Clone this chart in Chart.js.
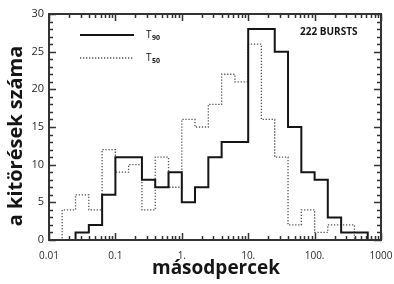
<!DOCTYPE html>
<html>
<head>
<meta charset="utf-8">
<script src="https://cdn.jsdelivr.net/npm/chart.js@4/dist/chart.umd.min.js"></script>
<style>
  html, body { margin: 0; padding: 0; background: #fff; overflow: hidden; }
  #wrap { position: relative; width: 394px; height: 284px; }
</style>
</head>
<body>
<div id="wrap"><canvas id="histChart"></canvas></div>
<script>
// bin edges (0.2 dex wide), seconds
const binEdges = [0.01, 0.0158, 0.0251, 0.0398, 0.0631, 0.1, 0.158, 0.251, 0.398, 0.631,
  1, 1.58, 2.51, 3.98, 6.31, 10, 15.8, 25.1, 39.8, 63.1, 100, 158, 251, 398, 631, 1000];
// counts per bin
const t90Counts = [0, 0, 1, 1, 2, 6, 11, 11, 8, 7, 9, 5, 7, 11, 13, 13, 28, 28, 25, 15, 9, 8, 3, 1, 0];
const t50Counts = [1, 0, 4, 6, 4, 12, 9, 10, 4, 11, 7, 16, 15, 18, 22, 21, 26, 16, 11, 2, 4, 1, 2, 0, 0];
const xTickLabels = ['0.01', '0.1', '1.', '10.', '100.', '1000'];
const yTickLabels = [0, 5, 10, 15, 20, 25, 30];

// histogram outline as step points
function stepPoints(counts) {
  const first = counts.findIndex(c => c > 0);
  let last = counts.length - 1;
  while (last > 0 && counts[last] === 0) last--;
  const pts = [{ x: binEdges[first], y: 0 }];
  for (let i = first; i <= last; i++) pts.push({ x: binEdges[i], y: counts[i] });
  pts.push({ x: binEdges[last + 1], y: counts[last] });
  pts.push({ x: binEdges[last + 1], y: 0 });
  return pts;
}

// tick positions 1..9 x 10^n
function logTicks() {
  const out = [];
  for (let e = -2; e <= 2; e++) {
    for (let m = 1; m <= 9; m++) out.push({ value: Number((m * Math.pow(10, e)).toPrecision(3)) });
  }
  out.push({ value: 1000 });
  return out;
}

const ink = '#151515';
const frameInk = '#333333';
const FONT = "'Open Sans', sans-serif";

// frame, inward ticks, titles, legend
const decorPlugin = {
  id: 'decor',
  afterDraw(chart) {
    const ctx = chart.ctx;
    const xs = chart.scales.x, ys = chart.scales.y;
    const ca = chart.chartArea;
    ctx.save();
    ctx.strokeStyle = frameInk;
    ctx.lineWidth = 2;
    ctx.strokeRect(ca.left, ca.top, ca.right - ca.left, ca.bottom - ca.top);
    ctx.lineWidth = 1.5;
    ctx.beginPath();
    for (let v = 0; v <= 30; v++) {
      const y = Math.round(ys.getPixelForValue(v)) + 0.5;
      const len = v % 5 === 0 ? 7 : 4;
      ctx.moveTo(ca.left, y); ctx.lineTo(ca.left + len, y);
      ctx.moveTo(ca.right, y); ctx.lineTo(ca.right - len, y);
    }
    xs.ticks.forEach(t => {
      const lg = Math.log10(t.value);
      const major = Math.abs(lg - Math.round(lg)) < 1e-6;
      const len = major ? 7 : 4;
      const x = Math.round(xs.getPixelForValue(t.value)) + 0.5;
      ctx.moveTo(x, ca.bottom); ctx.lineTo(x, ca.bottom - len);
      ctx.moveTo(x, ca.top); ctx.lineTo(x, ca.top + len);
    });
    ctx.stroke();

    // axis titles
    ctx.fillStyle = ink;
    ctx.font = 'bold 19px ' + FONT;
    ctx.textAlign = 'center';
    ctx.textBaseline = 'middle';
    ctx.fillText('másodpercek', 216, 269);
    ctx.save();
    ctx.translate(16, 136);
    ctx.rotate(-Math.PI / 2);
    ctx.font = 'bold 20px ' + FONT;
    ctx.fillText('a kitörések száma', 0, 0);
    ctx.restore();

    // legend
    const ds = chart.data.datasets;
    [[35, 0], [58, 1]].forEach(([ly, i]) => {
      ctx.save();
      ctx.strokeStyle = ds[i].borderColor;
      ctx.lineWidth = ds[i].borderWidth;
      ctx.setLineDash(ds[i].borderDash || []);
      ctx.beginPath();
      ctx.moveTo(80, ly); ctx.lineTo(134, ly);
      ctx.stroke();
      ctx.restore();
      ctx.textAlign = 'left';
      ctx.font = '10px ' + FONT;
      ctx.fillText('T', 146, ly);
      ctx.font = 'bold 7px ' + FONT;
      ctx.fillText(ds[i].label.slice(1), 152, ly + 3);
    });
    ctx.font = 'bold 10px ' + FONT;
    ctx.textAlign = 'left';
    ctx.fillText('222 BURSTS', 300, 32);
    ctx.restore();
  }
};

new Chart(document.getElementById('histChart'), {
  type: 'line',
  data: {
    datasets: [{
      label: 'T90',
      data: stepPoints(t90Counts),
      stepped: 'after',
      borderColor: ink,
      borderWidth: 2,
      pointRadius: 0,
      fill: false,
    }, {
      label: 'T50',
      data: stepPoints(t50Counts),
      stepped: 'after',
      borderColor: '#555555',
      borderWidth: 1.3,
      borderDash: [1.3, 1.7],
      pointRadius: 0,
      fill: false,
    }]
  },
  options: {
    responsive: true,
    maintainAspectRatio: false,
    animation: false,
    layout: { padding: { top: 14, right: 13, left: 0, bottom: 0 } },
    plugins: { legend: { display: false }, tooltip: { enabled: false } },
    scales: {
      x: {
        type: 'logarithmic',
        min: 0.01,
        max: 1000,
        grid: { display: false, drawTicks: false },
        border: { display: false },
        afterBuildTicks: s => { s.ticks = logTicks(); },
        ticks: {
          autoSkip: false,
          maxRotation: 0,
          padding: 10,
          color: '#2a2a2a',
          font: { family: FONT, size: 10 },
          callback: v => {
            const lg = Math.log10(v);
            if (Math.abs(lg - Math.round(lg)) > 1e-6) return '';
            return xTickLabels[Math.round(lg) + 2];
          }
        },
        afterFit: s => { s.height = 44; s.paddingLeft = 0; s.paddingRight = 0; }
      },
      y: {
        min: 0,
        max: 30,
        grid: { display: false, drawTicks: false },
        border: { display: false },
        ticks: {
          stepSize: 1,
          autoSkip: false,
          padding: 5,
          color: '#2a2a2a',
          font: { family: FONT, size: 11 },
          callback: v => yTickLabels.includes(v) ? String(v) : ''
        },
        afterFit: s => { s.width = 49; s.paddingTop = 0; s.paddingBottom = 0; }
      }
    }
  },
  plugins: [decorPlugin]
});
</script>
</body>
</html>
